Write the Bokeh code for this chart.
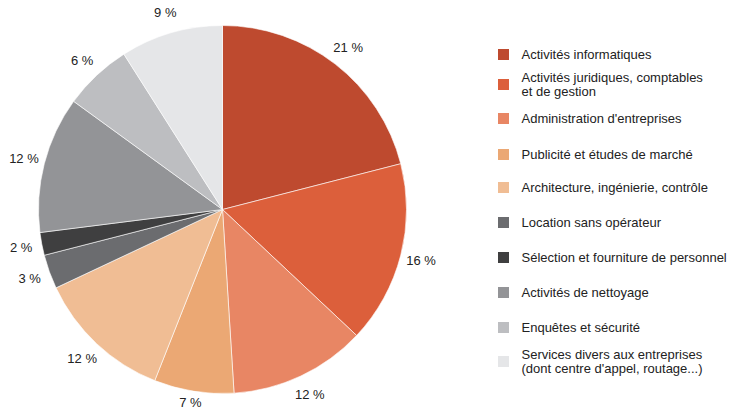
import math
from bokeh.plotting import figure
from bokeh.models import Range1d, ColumnDataSource
from bokeh.core.properties import value
from bokeh.embed import file_html
from bokeh.resources import INLINE

categories = [
    "Activités informatiques",
    "Activités juridiques, comptables\net de gestion",
    "Administration d'entreprises",
    "Publicité et études de marché",
    "Architecture, ingénierie, contrôle",
    "Location sans opérateur",
    "Sélection et fourniture de personnel",
    "Activités de nettoyage",
    "Enquêtes et sécurité",
    "Services divers aux entreprises\n(dont centre d'appel, routage...)",
]
shares = [21, 16, 12, 7, 12, 3, 2, 12, 6, 9]
colors = ["#BE4A2F", "#DC5F3B", "#E88664", "#EBA874", "#F0BD94",
          "#6B6C6F", "#3F3F40", "#939497", "#BDBEC1", "#E5E6E8"]

W, H = 730, 414
FONT = "Liberation Sans"
TXT = "#222222"

# data coords = page pixels, with y flipped (y = H - page_y)
p = figure(width=W, height=H, output_backend="svg", toolbar_location=None,
           x_axis_location=None, y_axis_location=None, min_border=0,
           x_range=Range1d(0, W), y_range=Range1d(0, H))
p.grid.visible = False
p.outline_line_color = None
p.background_fill_color = "white"

cx, cy, R = 222, H - 209, 184
total = sum(shares)
starts, ends, mids = [], [], []
acc = 0
for s in shares:
    a0 = acc / total
    acc += s
    a1 = acc / total
    starts.append(math.pi / 2 - 2 * math.pi * a1)
    ends.append(math.pi / 2 - 2 * math.pi * a0)
    mids.append(2 * math.pi * (a0 + a1) / 2)

src = ColumnDataSource(dict(start=starts, end=ends, color=colors))
p.wedge(x=cx, y=cy, radius=R, start_angle="start", end_angle="end",
        direction="anticlock", fill_color="color", line_color="white",
        line_width=0.6, source=src)

RL = 205
lx = [cx + RL * math.sin(m) for m in mids]
ly = [max(cy + RL * math.cos(m), 12) for m in mids]
labels = [f"{s} %" for s in shares]
p.text(x=lx, y=ly, text=labels, text_align="center", text_baseline="middle",
       text_font=value(FONT), text_font_size="13px", text_color=TXT)

# legend
rows = [54, 84, 118, 154, 187, 222, 257, 292, 327, 361]
ry = [H - r for r in rows]
p.rect(x=[503] * len(rows), y=ry, width=11, height=11, fill_color=colors,
       line_color=None)
p.text(x=[521] * len(rows), y=ry, text=categories, text_align="left",
       text_baseline="middle", text_font=value(FONT), text_font_size="13px",
       text_color=TXT, text_line_height=0.92)

open("out.html", "w").write(file_html(p, INLINE))
